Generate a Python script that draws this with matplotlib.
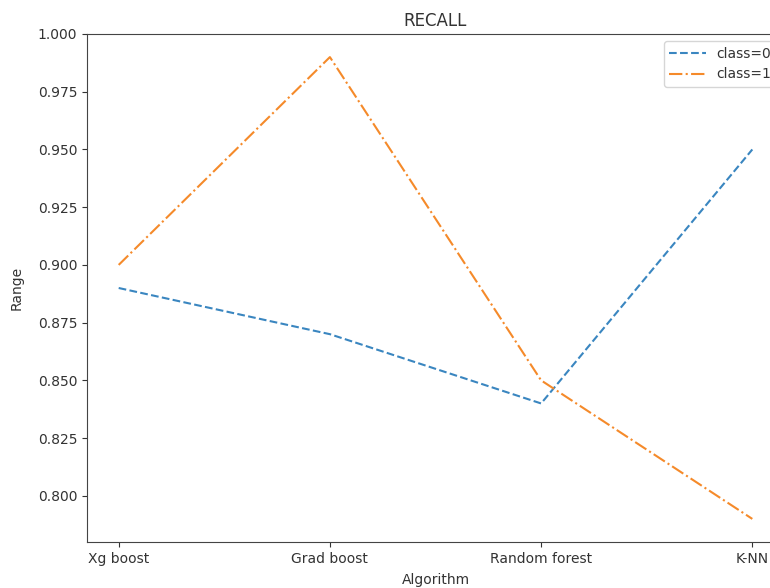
import matplotlib.pyplot as plt

algorithms = ["Xg boost", "Grad boost", "Random forest", "K-NN"]
recall_class0 = [0.89, 0.87, 0.84, 0.95]
recall_class1 = [0.90, 0.99, 0.85, 0.79]

# the reference is a slightly soft screenshot, so use greyer text
plt.rcParams["text.color"] = "#333333"
plt.rcParams["axes.labelcolor"] = "#333333"
plt.rcParams["xtick.color"] = "#333333"
plt.rcParams["ytick.color"] = "#333333"
plt.rcParams["axes.edgecolor"] = "#444444"

fig = plt.figure(figsize=(7.7, 5.88), dpi=100)
# the source screenshot crops the right edge of the axes
ax = fig.add_axes([87 / 770, 46 / 588, 697 / 770, 508 / 588])

ax.plot(algorithms, recall_class0, linestyle="--", color="#3a86c0", label="class=0")
ax.plot(algorithms, recall_class1, linestyle="-.", color="#f58a2a", label="class=1")

ax.set_title("RECALL")
ax.set_xlabel("Algorithm", labelpad=5)
ax.set_ylabel("Range", labelpad=10)
ax.legend(loc="upper right", handlelength=2.6)

fig.savefig("out.png", dpi=100)
